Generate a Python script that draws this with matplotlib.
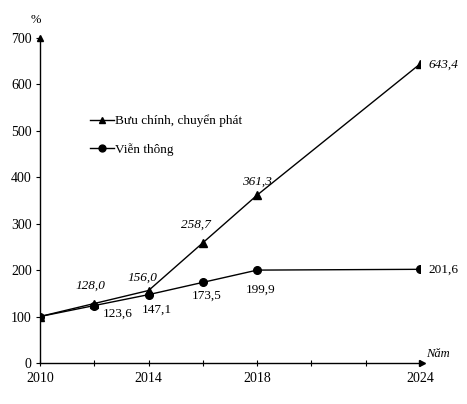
import matplotlib
matplotlib.use("Agg")
from matplotlib import pyplot as plt

plt.rcParams['font.family'] = ['Liberation Serif', 'DejaVu Serif']

nam = [2010, 2012, 2014, 2016, 2018, 2024]
buu_chinh = [100, 128.0, 156.0, 258.7, 361.3, 643.4]
vien_thong = [100, 123.6, 147.1, 173.5, 199.9, 201.6]
nhan_buu_chinh = ['', '128,0', '156,0', '258,7', '361,3', '643,4']
nhan_vien_thong = ['', '123,6', '147,1', '173,5', '199,9', '201,6']
nam_nhan = [2010, 2014, 2018, 2024]

fig = plt.figure(figsize=(4.67, 4.04), dpi=100)
ax = fig.add_axes([40/467, 41/404, 380/467, 325.3/404])

ax.plot(nam, buu_chinh, color='black', lw=1, marker='^', ms=5.5, label='Bưu chính, chuyển phát')
ax.plot(nam, vien_thong, color='black', lw=1, marker='o', ms=5.5, label='Viễn thông')

ax.set_xlim(2010, 2024)
ax.set_ylim(0, 700)
ax.set_xticks(range(2010, 2025, 2))
ax.set_xticklabels([str(n) if n in nam_nhan else '' for n in range(2010, 2025, 2)])
ax.set_yticks(range(0, 701, 100))
ax.tick_params(axis='x', direction='inout', length=5, width=0.8, labelsize=10, pad=4)
ax.tick_params(axis='y', direction='out', length=3, width=0.8, labelsize=10, pad=3)

for s in ['top', 'right']:
    ax.spines[s].set_visible(False)
for s in ['left', 'bottom']:
    ax.spines[s].set_linewidth(1)

# mui ten o dau truc
ax.plot(0, 1, '^k', ms=5, transform=ax.transAxes, clip_on=False)
ax.plot(1.005, 0, '>k', ms=5, transform=ax.transAxes, clip_on=False)

ax.text(-0.01, 1.045, '%', transform=ax.transAxes, fontsize=9, ha='center')
ax.text(1.015, 0.008, 'Năm', transform=ax.transAxes, fontsize=9, style='italic',
        ha='left', va='bottom')

lech_bc = [(0, 0), (-4, 18), (-6, 13), (-7, 18), (0, 13), (8, -1)]
lech_vt = [(0, 0), (23, -8), (8, -15), (4, -13), (3, -20), (8, 0)]
for i in range(len(nam)):
    if nhan_buu_chinh[i]:
        ha = 'left' if i == len(nam) - 1 else 'center'
        ax.annotate(nhan_buu_chinh[i], (nam[i], buu_chinh[i]), xytext=lech_bc[i],
                    textcoords='offset pixels', ha=ha, va='center', fontsize=9.5, style='italic')
    if nhan_vien_thong[i]:
        ha = 'left' if i == len(nam) - 1 else 'center'
        ax.annotate(nhan_vien_thong[i], (nam[i], vien_thong[i]), xytext=lech_vt[i],
                    textcoords='offset pixels', ha=ha, va='center', fontsize=9.5)

ax.legend(loc='upper left', bbox_to_anchor=(0.1, 0.8), frameon=False, fontsize=9.5,
          handlelength=1.8, handletextpad=0.1, labelspacing=1.2, markerscale=0.9)

fig.savefig('out.png', dpi=100)
